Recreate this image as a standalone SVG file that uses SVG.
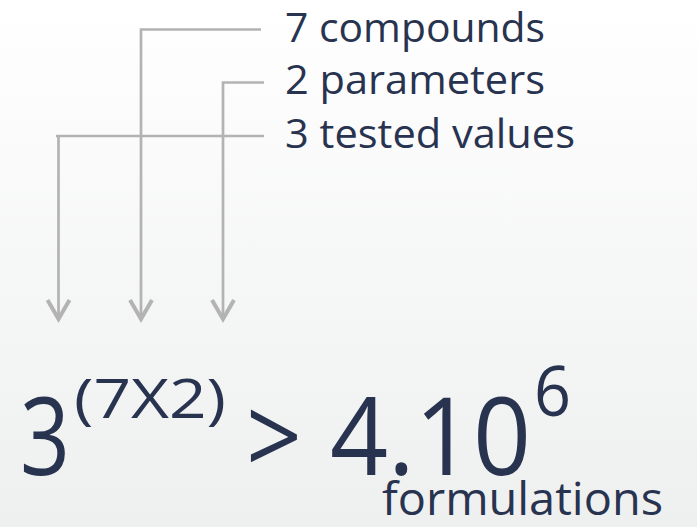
<svg xmlns="http://www.w3.org/2000/svg" width="697" height="527" viewBox="0 0 697 527">
<defs>
<linearGradient id="bg" x1="0" y1="0" x2="0" y2="1">
<stop offset="0" stop-color="#ffffff"/>
<stop offset="1" stop-color="#eeefef"/>
</linearGradient>
<marker id="arr" markerUnits="userSpaceOnUse" markerWidth="30" markerHeight="30" refX="23" refY="15" orient="auto" viewBox="0 0 30 30">
<path d="M3,4 L22,15 L3,26" fill="none" stroke="#b3b3b3" stroke-width="4" stroke-linejoin="miter"/>
</marker>
</defs>
<style>
.ln{fill:none;stroke:#b3b3b3;stroke-width:2.7}
.lbl{font-family:"Open Sans","Noto Sans",sans-serif;font-size:40px;fill:#283350}
.big{font-family:"Open Sans","Noto Sans",sans-serif;fill:#283350}
</style>
<rect width="697" height="527" fill="url(#bg)"/>
<g id="connectors">
<polyline class="ln" points="261,29.5 141,29.5 141,320" marker-end="url(#arr)"/>
<polyline class="ln" points="264,82.5 223,82.5 223,320" marker-end="url(#arr)"/>
<line class="ln" x1="56" y1="136" x2="264" y2="136"/>
<polyline class="ln" points="58.5,136 58.5,320" marker-end="url(#arr)"/>
</g>
<g id="label-compounds"><text class="lbl" x="285" y="42" textLength="260" lengthAdjust="spacingAndGlyphs">7 compounds</text></g>
<g id="label-parameters"><text class="lbl" x="285" y="94" textLength="260" lengthAdjust="spacingAndGlyphs">2 parameters</text></g>
<g id="label-values"><text class="lbl" x="285" y="148" textLength="290" lengthAdjust="spacingAndGlyphs">3 tested values</text></g>
<g id="formula">
<text class="big" x="20" y="475" font-size="108" textLength="50" lengthAdjust="spacingAndGlyphs">3</text>
<text class="big" x="74" y="418" font-size="54" textLength="152" lengthAdjust="spacingAndGlyphs">(7X2)</text>
<text class="big" x="246" y="475" font-size="108" textLength="56" lengthAdjust="spacingAndGlyphs">&gt;</text>
<text class="big" x="330" y="475" font-size="108" textLength="201" lengthAdjust="spacingAndGlyphs">4.10</text>
<text class="big" x="534" y="416" font-size="70" textLength="37" lengthAdjust="spacingAndGlyphs">6</text>
<text class="big" x="382" y="515" font-size="46" textLength="281" lengthAdjust="spacingAndGlyphs">formulations</text>
</g>
</svg>
